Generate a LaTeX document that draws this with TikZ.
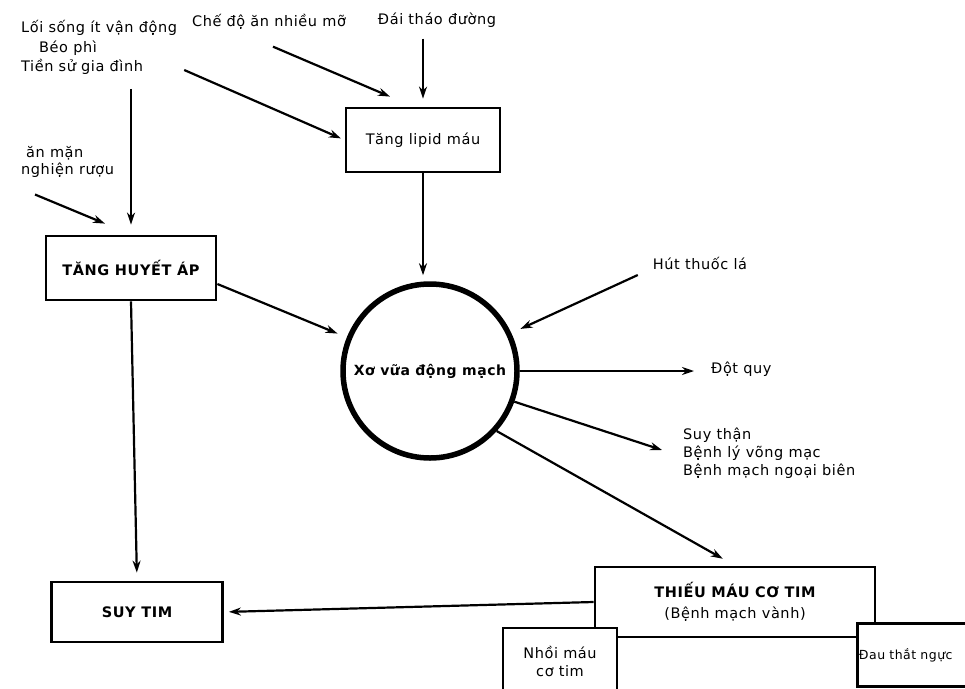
\documentclass[tikz,border=0pt]{standalone}
\usepackage{fontspec}
\setmainfont{DejaVu Sans}[LetterSpace=4]
\usetikzlibrary{arrows.meta, positioning, calc}

\begin{document}
\fontsize{14.5}{18}\selectfont
\begin{tikzpicture}[
      x=1pt, y=-1pt,
      box/.style={rectangle, draw, line width=2.8pt, fill=white, align=center, inner sep=3pt},
      lbl/.style={inner sep=1pt, align=left},
      arrow/.style={-{Stealth[length=12pt,width=8pt]}, line width=2.2pt}
  ]
      \useasboundingbox (0,0) rectangle (965,688);
      \clip (0,0) rectangle (965,688);

      % Risk factors, top left
      \node[lbl, anchor=west] (LS) at (20,28) {Lối sống ít vận động};
      \node[lbl, anchor=west] (BP) at (38,48) {Béo phì};
      \node[lbl, anchor=west] (TS) at (20,67) {Tiền sử gia đình};
      \node[lbl] (CD) at (269,22) {Chế độ ăn nhiều mỡ};
      \node[lbl] (DT) at (437,20) {Đái tháo đường};
      \node[lbl, anchor=west] (AM) at (25,153) {ăn mặn};
      \node[lbl, anchor=west] (NR) at (20,170) {nghiện rượu};

      % Main boxes
      \node[box, minimum width=154, minimum height=64] (LIP) at (423,140) {Tăng lipid máu};
      \node[box, minimum width=170, minimum height=64] (THA) at (131,268) {\bfseries TĂNG HUYẾT ÁP};

      % Atherosclerosis
      \node[circle, draw, line width=5.5pt, minimum size=174, inner sep=0pt] (XV) at (430,371)
          {\bfseries\fontsize{14}{16}\selectfont Xơ vữa động mạch};

      % Right side labels
      \node[lbl] (HT) at (700,263) {Hút thuốc lá};
      \node[lbl, anchor=west] (DQ) at (710,369) {Đột quy};
      \node[lbl, anchor=west] (ST) at (682,453)
          {Suy thận\\Bệnh lý võng mạc\\Bệnh mạch ngoại biên};

      % Bottom boxes
      \node[box, minimum width=280, minimum height=70] (TM) at (735,602)
          {\bfseries THIẾU MÁU CƠ TIM\\[3pt](Bệnh mạch vành)};
      \node[box, minimum width=171, minimum height=60] (SUY) at (137,612) {\bfseries SUY TIM};
      \node[box, minimum width=114, minimum height=66] (NM) at (560,661) {Nhồi máu\\cơ tim};
      \node[box, anchor=north west, minimum height=63, text width=132pt, align=left, inner xsep=1.5pt,
          font=\fontsize{12.5}{15}\selectfont] (DAU) at (856,622) {Đau thắt ngực};

      % Arrows
      \draw[arrow] ([xshift=4pt,yshift=-16pt]CD.south) -- ([xshift=-33pt,yshift=10pt]LIP.north);
      \draw[arrow, shorten >=4pt] ([xshift=40pt,yshift=-3pt]TS.east) -- (LIP.west);
      \draw[arrow, shorten <=10pt, shorten >=8pt] (LIP.north |- DT.south) -- (LIP.north);
      \draw[arrow, shorten >=6pt] (LIP.south) -- (LIP.south |- XV.north);
      \draw[arrow, shorten <=13pt, shorten >=10pt] (THA.north |- TS.south) -- (THA.north);
      \draw[arrow] ([xshift=15pt,yshift=-16pt]NR.south west) -- ([xshift=-26pt,yshift=11pt]THA.north);
      \draw[arrow, shorten >=10pt] ([yshift=-16pt]THA.east) -- (XV.158);
      \draw[arrow, shorten >=8pt] (THA.south) -- (SUY.north);
      \draw[arrow, shorten >=10pt] ([xshift=-14pt,yshift=-12pt]HT.west) -- (XV.25);
      \draw[arrow, shorten >=16pt] (XV.east) -- (XV.east -| DQ.west);
      \draw[arrow] (XV.-20) -- ([xshift=-20pt,yshift=3pt]ST.west);
      \draw[arrow, shorten >=14pt] (XV.-42) -- (TM.north);
      \draw[arrow, shorten >=5pt] (TM.west) -- (SUY.east);
  \end{tikzpicture}
\end{document}
